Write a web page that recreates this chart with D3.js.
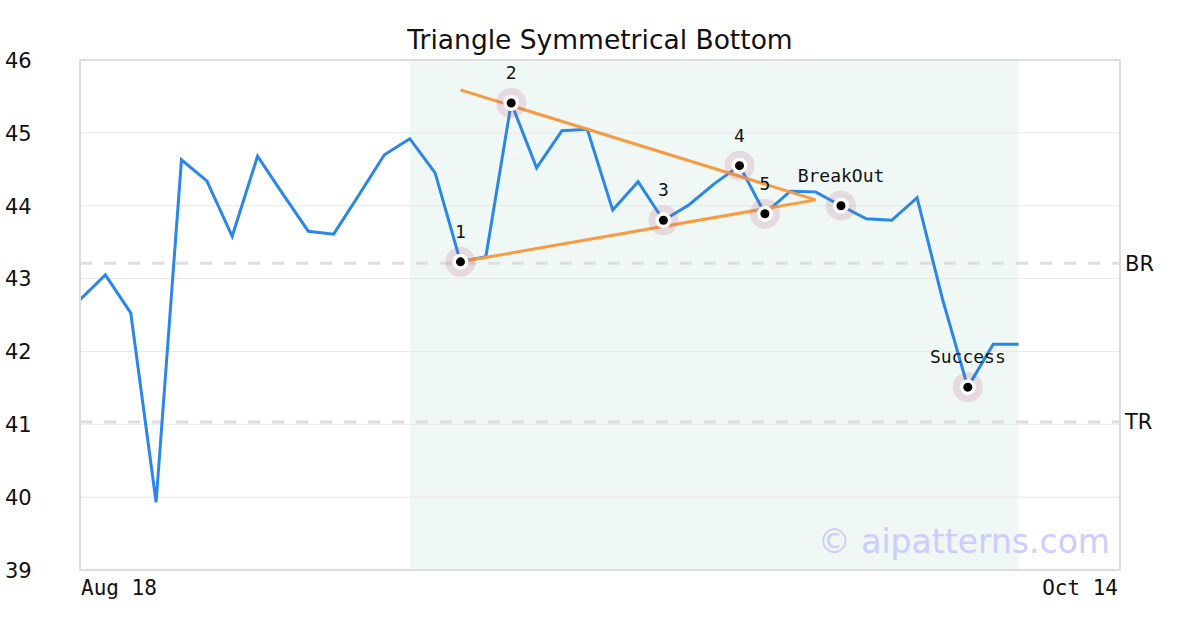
<!DOCTYPE html>
<html>
<head>
<meta charset="utf-8">
<script src="https://cdn.jsdelivr.net/npm/d3@7/dist/d3.min.js"></script>
<style>
html,body{margin:0;padding:0;background:#fff;}
svg{display:block;}
</style>
</head>
<body>
<svg id="chart" width="1200" height="630"></svg>
<script>
// ---- data ----
const title = "Triangle Symmetrical Bottom";
const totalSlots = 42; // index domain 0..41
const prices = [42.71, 43.05, 42.53, 39.93, 44.63, 44.34, 43.58, 44.68, 44.16, 43.65,
                43.61, 44.15, 44.70, 44.92, 44.45, 43.23, 43.30, 45.41, 44.52, 45.03,
                45.05, 43.94, 44.33, 43.80, 44.01, 44.30, 44.55, 43.89, 44.20, 44.19,
                44.00, 43.82, 43.80, 44.11, 42.72, 41.51, 42.10, 42.10];
const yTicks = [39, 40, 41, 42, 43, 44, 45, 46];
const xTickLabels = [{i: 0, label: "Aug 18", anchor: "start"}, {i: 41, label: "Oct 14", anchor: "end"}];
const patternRange = [13, 37];
const markers = [
  {i: 15, label: "1"}, {i: 17, label: "2"}, {i: 23, label: "3"},
  {i: 26, label: "4"}, {i: 27, label: "5"}, {i: 30, label: "BreakOut"}, {i: 35, label: "Success"}
];
const upperTrend = [{i: 15, v: 45.59}, {i: 29, v: 44.08}];
const lowerTrend = [{i: 15, v: 43.23}, {i: 29, v: 44.08}];
const levels = [{v: 43.21, label: "BR"}, {v: 41.03, label: "TR"}];
const watermark = "\u00a9 aipatterns.com";

// ---- layout ----
const svg = d3.select("#chart");
const L = 80, R = 1120, T = 60, B = 570;
const x = d3.scaleLinear().domain([0, totalSlots - 1]).range([L, R]);
const y = d3.scaleLinear().domain([39, 46]).range([B, T]);

svg.append("text").attr("x", 600).attr("y", 49).attr("text-anchor", "middle")
  .attr("font-family", "DejaVu Sans").attr("font-size", 26.5).attr("fill", "#111").text(title);

// pattern background
svg.append("rect").attr("x", x(patternRange[0])).attr("y", T)
  .attr("width", x(patternRange[1]) - x(patternRange[0])).attr("height", B - T)
  .attr("fill", "#eff8f4");

// grid lines
svg.append("g").selectAll("line").data(yTicks.filter(d => d > 39 && d < 46)).join("line")
  .attr("x1", L).attr("x2", R).attr("y1", d => y(d)).attr("y2", d => y(d))
  .attr("stroke", "#e8e8e8").attr("stroke-width", 1);

// y tick labels
const yAxis = d3.axisLeft(y).tickValues(yTicks).tickSize(0).tickFormat(d3.format("d"));
const gy = svg.append("g").attr("transform", `translate(5,0)`).call(yAxis);
gy.select(".domain").remove();
gy.selectAll("text").attr("text-anchor", "start").attr("x", 0).attr("dy", "0.35em")
  .attr("font-family", "DejaVu Sans").attr("font-size", 21).attr("fill", "#111");

// level lines
svg.append("g").selectAll("line").data(levels).join("line")
  .attr("x1", L).attr("x2", R).attr("y1", d => y(d.v)).attr("y2", d => y(d.v))
  .attr("stroke", "#dedede").attr("stroke-width", 3).attr("stroke-dasharray", "12,12");
svg.append("g").selectAll("text").data(levels).join("text")
  .attr("x", R + 5).attr("y", d => y(d.v)).attr("dy", "0.35em")
  .attr("font-family", "DejaVu Sans").attr("font-size", 21).attr("fill", "#111")
  .text(d => d.label);

// price line
const line = d3.line().x((d, i) => x(i)).y(d => y(d));
svg.append("path").datum(prices).attr("d", line).attr("fill", "none")
  .attr("stroke", "#2a86e8").attr("stroke-width", 3).attr("stroke-linejoin", "miter");

// trend lines
const tl = d3.line().x(d => x(d.i)).y(d => y(d.v));
[upperTrend, lowerTrend].forEach(t => {
  svg.append("path").datum(t).attr("d", tl).attr("fill", "none")
    .attr("stroke", "#fa9a40").attr("stroke-width", 3);
});

// markers
const mg = svg.append("g").selectAll("g").data(markers).join("g")
  .attr("transform", d => `translate(${x(d.i)},${y(prices[d.i])})`);
mg.append("circle").attr("r", 15).attr("fill", "rgb(175,85,125)").attr("fill-opacity", 0.18);
mg.append("circle").attr("r", 8).attr("fill", "#fff");
mg.append("circle").attr("r", 4.5).attr("fill", "#000");
mg.append("text").attr("y", -24).attr("text-anchor", "middle")
  .attr("font-family", "DejaVu Sans Mono").attr("font-size", 18).attr("fill", "#111")
  .text(d => d.label);

// frame
svg.append("rect").attr("x", L).attr("y", T).attr("width", R - L).attr("height", B - T)
  .attr("fill", "none").attr("stroke", "#dddddd").attr("stroke-width", 2);

// x tick labels
svg.append("g").selectAll("text").data(xTickLabels).join("text")
  .attr("x", d => x(d.i) + (d.anchor === "start" ? 1 : -2)).attr("y", 595)
  .attr("text-anchor", d => d.anchor)
  .attr("font-family", "DejaVu Sans Mono").attr("font-size", 21).attr("fill", "#111")
  .text(d => d.label);

// watermark
svg.append("text").attr("x", 1110).attr("y", 553).attr("text-anchor", "end")
  .attr("font-family", "DejaVu Sans").attr("font-size", 33).attr("fill", "#ccccff")
  .text(watermark);
</script>
</body>
</html>
